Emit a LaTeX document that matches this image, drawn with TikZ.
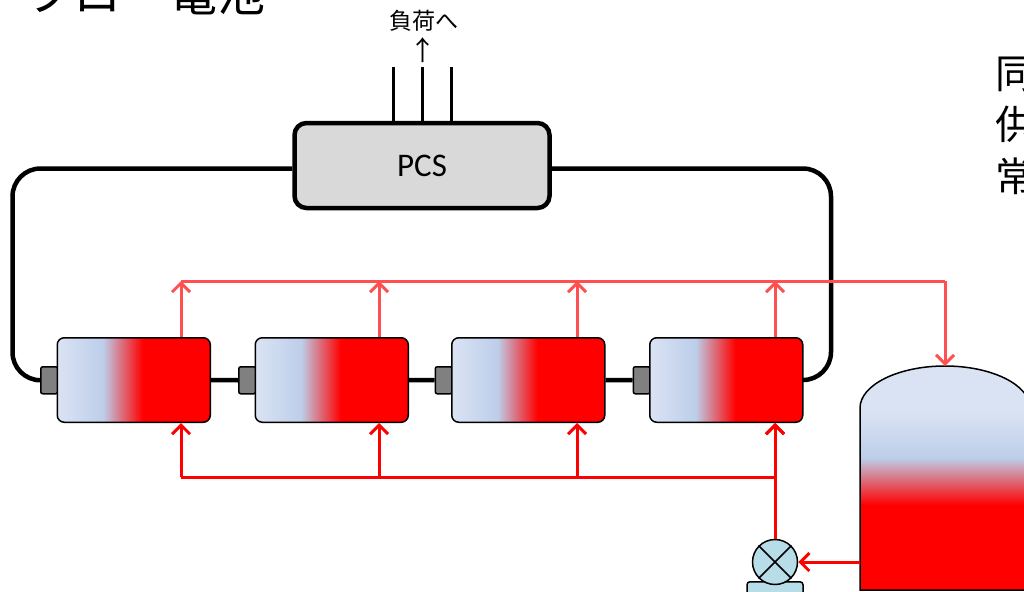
\documentclass[tikz,border=0pt]{standalone}
\usepackage{fontspec}
\setmainfont{Carlito}
\newfontfamily\jpfont{Noto Sans CJK JP}
\usetikzlibrary{arrows.meta}
\definecolor{palered}{HTML}{FF5050}
\definecolor{lightblue}{HTML}{DAE3F3}
\definecolor{midblue}{HTML}{BDCEEA}
\definecolor{pumpblue}{HTML}{B7DDE8}
\pgfdeclarehorizontalshading{cellfill}{100bp}{color(0bp)=(lightblue); color(25bp)=(lightblue); color(40bp)=(midblue); color(53bp)=(red); color(100bp)=(red)}
\pgfdeclareverticalshading{tankfill}{100bp}{color(0bp)=(red); color(44bp)=(red); color(54.5bp)=(midblue); color(65bp)=(lightblue); color(100bp)=(lightblue)}
\tikzset{
  wire/.style={line width=4.5pt, black},
  busline/.style={line width=3pt, black},
  cell/.style={draw, line width=1.5pt, rounded corners=7pt, shading=cellfill, anchor=north west, inner sep=0pt, minimum width=153pt, minimum height=84.5pt},
  terminal/.style={draw, line width=1.5pt, rounded corners=2pt, fill=black!50, anchor=north west, inner sep=0pt, minimum width=17pt, minimum height=27pt},
  outflow/.style={line width=3pt, palered, -{Straight Barb[length=9pt, width=18pt, line width=3pt]}},
  inflow/.style={line width=3pt, red, -{Straight Barb[length=9pt, width=18pt, line width=3pt]}},
  jptext/.style={font=\jpfont\fontsize{#1}{#1}\selectfont, inner sep=0pt}
}
\begin{document}
\begin{tikzpicture}[x=1pt,y=-1pt]
\useasboundingbox (0,0) rectangle (1024,591);
\node [jptext=48pt, anchor=west] (title) at (25,-7) {フロー電池};
\foreach \t/\y [count=\n] in {同/74.5,供/124,常/176}{
\node [jptext=40pt, anchor=west] (note\n) at (995,\y) {\t};
}
\node [jptext=23pt] (load) at (423.5,21) {負荷へ};
\node [jptext=27pt] (loadarrow) at (423,50) {↑};
\node [draw, line width=4.5pt, rounded corners=12pt, fill=black!15, minimum width=255pt, minimum height=85pt, font=\fontsize{33}{33}\selectfont] (pcs) at (422,165.5) {PCS};
% busbars to the load
\foreach \x [count=\n] in {393,422,451}{
\coordinate (bus\n) at (\x,67);
\draw [busline] (bus\n) -- (bus\n |- pcs.north);
}
% cells
\foreach \n/\x/\a in {1/56.5/181,2/254.5/379,3/451/577,4/649/775}{
\node [terminal] (term\n) at (\x-16.5,366) {};
\node [cell] (cell\n) at (\x,337) {};
\coordinate (top\n) at (\a,281);
\coordinate (low\n) at (\a,477);
}
\foreach \a/\b in {1/2,2/3,3/4}{
\draw [wire] (cell\a.east) -- (term\b.west);
}
\coordinate (loopl) at (12.5,168.5);
\coordinate (loopr) at (831,168.5);
\draw [wire, rounded corners=28pt] (term1.west) -| (loopl) -- (loopl -| pcs.west);
\draw [wire, rounded corners=28pt] (cell4.east) -| (loopr) -- (loopr -| pcs.east);
% tank
\coordinate (tanktop) at (945,366);
\coordinate (tankout) at (860,562);
\coordinate (topend) at (945,281);
\shade [draw, line width=1.5pt, shading=tankfill] (860,590) -- (860,408) .. controls (860,385) and (898,366) .. (tanktop) .. controls (992,366) and (1030,385) .. (1030,408) -- (1030,590) -- cycle;
% pump
\node [draw, line width=1.5pt, rounded corners=3pt, fill=pumpblue, minimum width=56pt, minimum height=30pt, anchor=north] (base) at (775,581) {};
\node [draw, circle, line width=1.5pt, fill=pumpblue, minimum size=45pt, inner sep=0pt] (pump) at (775,562) {};
\draw [line width=1.5pt] (pump.north west) -- (pump.south east);
\draw [line width=1.5pt] (pump.north east) -- (pump.south west);
% flow lines
\draw [line width=3pt, palered] (top1) -- (topend);
\draw [line width=3pt, red] (low1) -- (low4);
\draw [outflow] (topend) -- (tanktop);
\foreach \n in {1,...,4}{
\draw [outflow] (cell\n.north -| top\n) -- (top\n);
\draw [inflow] (low\n) -- (cell\n.south -| low\n);
}
\draw [inflow] (pump.north) -- (cell4.south -| low4);
\draw [inflow] (tankout) -- (pump.east);
\end{tikzpicture}
\end{document}
